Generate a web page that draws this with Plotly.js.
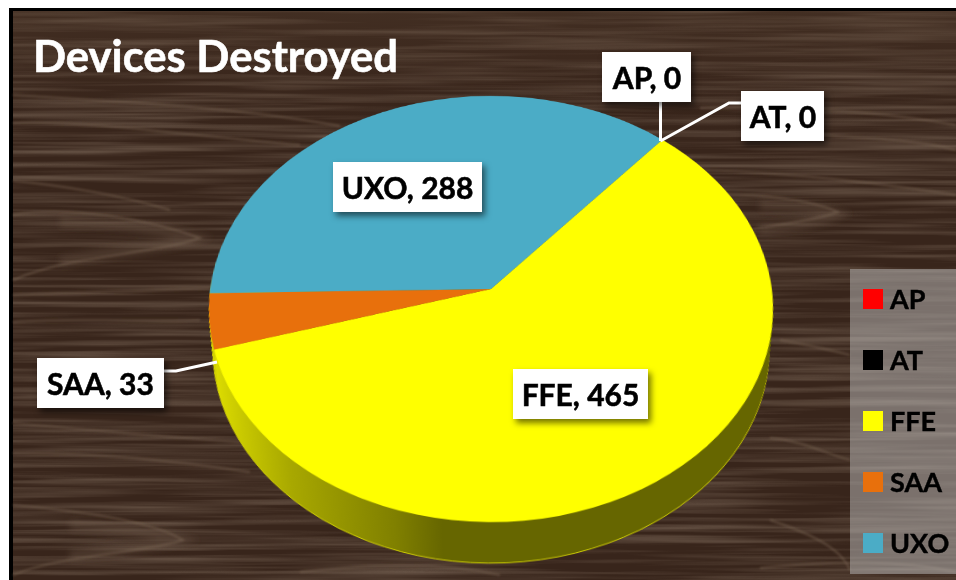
<!DOCTYPE html>
<html><head><meta charset="utf-8">
<script src="https://cdn.plot.ly/plotly-3.0.1.min.js"></script>
<style>
html,body{margin:0;padding:0;width:956px;height:580px;overflow:hidden;background:#fff}
#wood{position:absolute;left:0;top:0}
#pie{position:absolute;left:-9px;top:-211px;width:1000px;height:1000px;transform-origin:500px 500px;transform:perspective(1971px) rotateX(41.2deg)}
#front{position:absolute;left:0;top:0;width:956px;height:580px}
#front .annotation text{stroke:#000;stroke-width:.55px}
#front .gtitle{stroke:#fff;stroke-width:.6px}
#front .legendtext{stroke:#000;stroke-width:.4px}
</style></head><body>
<svg id="wood" width="956" height="580" xmlns="http://www.w3.org/2000/svg">
<defs>
<filter id="grain" x="0" y="0" width="100%" height="100%"><feTurbulence type="fractalNoise" baseFrequency="0.004 0.16" numOctaves="3" seed="7"/><feColorMatrix values="0 0 0 0 0.36  0 0 0 0 0.27  0 0 0 0 0.20  0.6 0.6 0 0 -0.5"/></filter>
<filter id="soft"><feGaussianBlur stdDeviation="1.3"/></filter>
<filter id="softer"><feGaussianBlur stdDeviation="3"/></filter>
<linearGradient id="shade" x1="0" y1="0" x2="0" y2="1"><stop offset="0" stop-color="#5a4433" stop-opacity=".3"/><stop offset=".22" stop-color="#3f2a1f" stop-opacity="0"/></linearGradient>
</defs>
<rect x="9" y="8" width="947" height="572" fill="#000"/>
<rect x="13" y="11" width="943" height="569" fill="#38251b"/>
<rect x="13" y="11" width="943" height="569" filter="url(#grain)"/>
<rect x="13" y="11" width="943" height="569" fill="url(#shade)"/>
<g fill="none" stroke="#7d6855" stroke-width="2" stroke-opacity=".5" filter="url(#soft)">
<path d="M13 95C90 100 220 105 340 126"/>
<path d="M13 123C90 120 180 135 300 145"/>
<path d="M13 181C60 185 120 195 170 210"/>
<path d="M13 295C70 292 140 292 210 288"/>
<path d="M13 322C60 318 120 322 200 320"/>
<path d="M13 423C90 430 170 438 240 442"/>
<path d="M13 453C90 452 170 460 250 472"/>
<path d="M13 505C70 510 150 520 183 540C150 552 60 555 13 575"/>
<path d="M700 108C790 105 880 112 956 125"/>
<path d="M760 130C820 138 900 135 956 150"/>
<path d="M700 170C770 172 860 180 956 195"/>
<path d="M620 195C720 190 800 195 838 212C790 230 700 225 690 260"/>
<path d="M780 340C810 345 830 350 850 355"/>
<path d="M770 438C800 440 830 455 850 460"/>
<path d="M770 520C800 530 840 545 850 570"/>
<path d="M760 568C840 560 900 560 956 572"/>
<path d="M300 572C370 565 430 560 500 575"/>
<path d="M13 215C70 205 150 220 200 238C150 255 70 255 13 280"/>
</g>
<g fill="none" stroke="#7a6452" stroke-width="10" stroke-opacity=".3" filter="url(#softer)">
<path d="M60 222C110 222 160 230 195 238C160 250 110 250 60 262"/>
<path d="M760 205C790 205 820 208 838 214C815 224 790 226 760 230"/>
<path d="M70 525C110 528 150 532 180 540C150 548 110 550 70 556"/>
</g>
</svg>
<div id="pie"></div>
<div id="front"></div>
<script>
var categories = ["AP", "AT", "FFE", "SAA", "UXO"];
var devices = [0, 0, 465, 33, 288];
var sliceColors = ["#ff0000", "#000000", "#ffff00", "#e8700c", "#4bacc6"];
var chartTitle = "Devices Destroyed";

var startAngle = 40.8, LAYERS = 40, BOX = 1000, TOP_R = 280.8, BOT_R = 272, DROP = 52.8;

function pieTrace(r, dy, colors, line) {
  return {
    type: "pie", labels: categories, values: devices, sort: false, direction: "clockwise",
    rotation: startAngle, textinfo: "none", hoverinfo: "none", showlegend: false,
    marker: {colors: colors, line: {width: line ? 1 : 0, color: "#d0d000"}},
    domain: {x: [(BOX/2 - r)/BOX, (BOX/2 + r)/BOX], y: [(BOX/2 - r - dy)/BOX, (BOX/2 + r - dy)/BOX]}
  };
}
var traces = [];
for (var i = LAYERS; i >= 1; i--) {
  var f = i / LAYERS;
  traces.push(pieTrace(TOP_R + (BOT_R - TOP_R) * f, DROP * f, sliceColors, i === LAYERS));
}
traces.push(pieTrace(TOP_R, 0, sliceColors, false));

function W(x){return x/956;} function H(y){return 1-y/580;}
function box(text, x0, y0, x1, y1) {
  return {text: "<b>"+text+"</b>", xref:"paper", yref:"paper", x:W((x0+x1)/2), y:H((y0+y1)/2), xanchor:"center", yanchor:"middle",
    showarrow:false, bgcolor:"#fff", width:x1-x0, height:y1-y0, borderpad:0, borderwidth:0, align:"center", valign:"middle",
    font:{family:"Lato, Carlito, sans-serif", size:30, color:"#000"}};
}
function lbl(i){return categories[i]+", "+devices[i];}
function seg(pts){
  var d = pts.map(function(p,i){return (i?"L":"M")+W(p[0])+" "+H(p[1]);}).join(" ");
  return {type:"path", xref:"paper", yref:"paper", path:d, line:{color:"#fff", width:3}, layer:"above"};
}

var frontLayout = {
  width:956, height:580, margin:{l:0,r:0,t:0,b:0}, paper_bgcolor:"rgba(0,0,0,0)", plot_bgcolor:"rgba(0,0,0,0)",
  title:{text:"<b>"+chartTitle+"</b>", x:W(33), xanchor:"left", xref:"container", y:H(57), yanchor:"middle", yref:"container", font:{family:"Lato, Carlito, sans-serif", size:43.6, color:"#fff"}},
  showlegend:true,
  legend:{x:W(850), xanchor:"left", y:H(269), yanchor:"top", bgcolor:"rgba(190,190,190,.5)", borderwidth:0, font:{family:"Lato, Carlito, sans-serif", size:27, color:"#000", weight:700}, traceorder:"normal"},
  shapes:[ seg([[660.5,102],[660.5,141]]), seg([[660.5,141],[729,103],[741,103]]), seg([[164,371],[176,371],[217,362]]) ],
  annotations:[ box(lbl(0),602,52,691,102), box(lbl(1),741,91,824,141), box(lbl(4),333,162,482,212), box(lbl(3),37,358,164,408), box(lbl(2),513,369,648,419) ]
};
var legendPie = {type:"pie", labels:categories, values:devices, sort:false, direction:"clockwise", textinfo:"none", hoverinfo:"none",
  marker:{colors:sliceColors}, domain:{x:[W(645),W(647)], y:[H(78),H(76)]}};

Plotly.newPlot("pie", traces, {width:BOX, height:BOX, margin:{l:0,r:0,t:0,b:0}, paper_bgcolor:"rgba(0,0,0,0)", showlegend:false}, {staticPlot:true})
.then(function(gd){
  var svg = gd.querySelector("svg.main-svg"), ns = "http://www.w3.org/2000/svg";
  var defs = svg.querySelector("defs");
  var g = document.createElementNS(ns,"linearGradient"); g.id="wallGrad";
  [["0%","#dcdc00"],["15%","#a8a800"],["33%","#808000"],["41%","#666600"],["100%","#666600"]].forEach(function(s){
    var st=document.createElementNS(ns,"stop"); st.setAttribute("offset",s[0]); st.setAttribute("stop-color",s[1]); g.appendChild(st);
  });
  defs.appendChild(g);
  var ts = gd.querySelectorAll(".pielayer .trace");
  for (var k=0;k<ts.length-1;k++){ ts[k].querySelectorAll("path.surface").forEach(function(p){ p.style.fill="url(#wallGrad)"; }); }
  return Plotly.newPlot("front",[legendPie],frontLayout,{staticPlot:true});
}).then(function(gd){
  gd.querySelectorAll(".annotation rect.bg").forEach(function(r){ r.style.filter="drop-shadow(3px 4px 3px rgba(0,0,0,.55))"; });
  var leg = gd.querySelector("g.legend");
  leg.setAttribute("transform","translate(850,269)");
  var bg = leg.querySelector("rect.bg"); bg.setAttribute("width",106); bg.setAttribute("height",305); bg.setAttribute("x",0); bg.setAttribute("y",0);
  var sb = leg.querySelector(".scrollbox"); sb.removeAttribute("clip-path"); sb.setAttribute("transform","");
  var ys=[29,90,151,212,273];
  leg.querySelectorAll("g.traces").forEach(function(t,i){
    t.setAttribute("transform","translate(0,"+ys[i]+")");
    var tx=t.querySelector("text.legendtext"); tx.setAttribute("x",40);
    var p=t.querySelector(".legendpoints path"); if(p){p.setAttribute("d","M-10,-10h20v20h-20z"); p.setAttribute("transform","translate(23,1)"); p.style.strokeWidth=0;}
  });
});
</script>
</body></html>
